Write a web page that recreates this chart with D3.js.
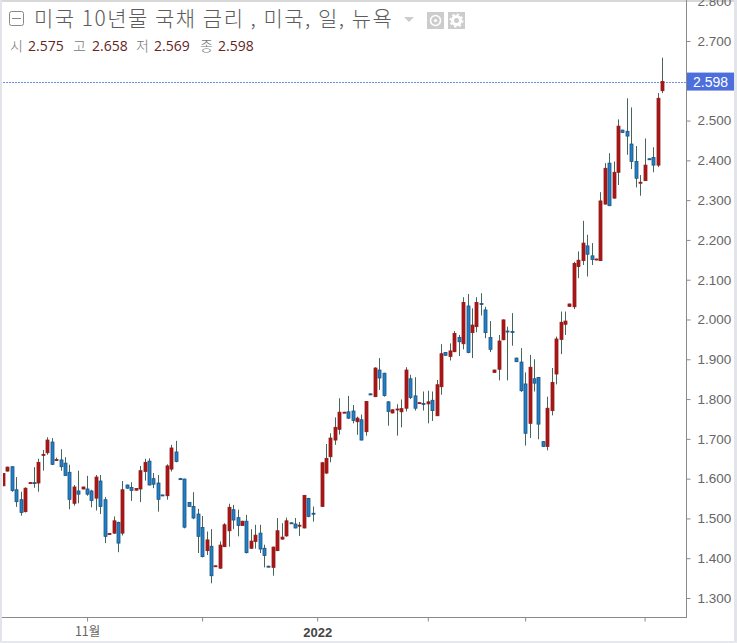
<!DOCTYPE html>
<html>
<head>
<meta charset="utf-8">
<script src="https://cdnjs.cloudflare.com/ajax/libs/d3/7.8.5/d3.min.js"></script>
<style>
  html, body { margin: 0; padding: 0; background: #fff; }
  svg { display: block; }
  .tick text { font-family: "Liberation Sans", Arial, sans-serif; }
</style>
</head>
<body>
<div id="chart"></div>
<script>
// daily candles. null = no session (new year gap)
var opens = [1.582,1.619,1.630,1.572,1.547,1.517,1.589,1.590,1.589,1.659,1.665,1.692,1.646,1.647,1.639,1.616,1.538,1.569,1.574,1.574,
  1.569,1.551,1.594,1.547,1.460,1.463,1.490,1.463,1.584,1.578,1.571,1.574,1.618,1.644,1.600,1.589,1.559,1.557,1.624,1.667,
  1.600,1.599,1.540,1.530,1.511,1.477,1.419,1.430,1.379,1.375,1.429,1.469,1.522,1.502,1.482,1.493,1.425,1.442,1.463,1.425,
  1.380,1.377,1.419,1.448,1.456,1.489,1.486,1.481,1.476,1.550,1.513,null,1.530,1.614,1.655,1.697,1.724,1.766,1.768,1.770,
  1.743,1.748,1.718,1.813,1.806,1.873,1.865,1.793,1.765,1.773,1.768,1.777,1.851,1.808,1.789,1.789,1.788,1.797,1.758,1.831,
  1.917,1.907,1.919,1.955,1.939,2.034,1.967,1.982,2.040,2.024,1.955,1.867,1.875,1.949,1.971,1.970,1.903,1.893,1.838,1.739,
  1.851,1.854,1.693,1.681,1.771,1.863,1.950,1.988,2.033,2.032,2.133,2.148,2.185,2.160,2.150,2.148,2.290,2.393,2.305,2.370,
  2.476,2.473,2.441,2.397,2.343,2.349,2.404,2.407,2.388,2.575];
var highs = [1.614,1.630,1.631,1.604,1.567,1.578,1.591,1.629,1.650,1.672,1.704,1.702,1.653,1.674,1.654,1.635,1.584,1.620,1.580,1.607,
  1.572,1.609,1.609,1.554,1.463,1.505,1.492,1.594,1.585,1.591,1.576,1.632,1.650,1.651,1.614,1.609,1.560,1.636,1.685,1.695,
  1.602,1.600,1.541,1.566,1.524,1.506,1.467,1.473,1.381,1.442,1.488,1.537,1.534,1.522,1.494,1.509,1.473,1.484,1.484,1.434,
  1.381,1.429,1.501,1.488,1.502,1.490,1.501,1.491,1.559,1.552,1.530,null,1.642,1.687,1.714,1.754,1.802,1.768,1.808,1.785,
  1.756,1.761,1.795,1.814,1.880,1.903,1.866,1.795,1.774,1.787,1.799,1.880,1.861,1.855,1.791,1.819,1.821,1.819,1.848,1.938,
  1.918,1.940,1.971,1.961,2.056,2.064,2.028,2.056,2.066,2.032,1.996,1.874,1.961,2.000,1.982,2.016,1.904,1.928,1.867,1.911,
  1.900,1.855,1.694,1.806,1.878,1.957,2.020,2.020,2.040,2.145,2.171,2.248,2.213,2.192,2.153,2.320,2.393,2.418,2.397,2.503,
  2.477,2.556,2.533,2.436,2.363,2.455,2.405,2.433,2.569,2.658];
var lows = [1.581,1.618,1.567,1.529,1.507,1.515,1.588,1.577,1.567,1.620,1.660,1.634,1.645,1.620,1.607,1.523,1.532,1.538,1.573,1.557,
  1.528,1.520,1.511,1.438,1.459,1.461,1.415,1.457,1.575,1.544,1.570,1.541,1.595,1.583,1.576,1.517,1.557,1.547,1.618,1.641,
  1.597,1.475,1.529,1.498,1.413,1.402,1.408,1.337,1.378,1.373,1.428,1.429,1.473,1.455,1.481,1.412,1.423,1.424,1.413,1.377,
  1.377,1.356,1.418,1.447,1.454,1.486,1.475,1.456,1.475,1.503,1.492,null,1.530,1.612,1.641,1.685,1.711,1.765,1.750,1.739,
  1.710,1.696,1.708,1.810,1.805,1.823,1.806,1.733,1.764,1.708,1.729,1.769,1.800,1.771,1.788,1.771,1.739,1.745,1.758,1.811,
  1.909,1.897,1.918,1.908,1.925,1.915,1.903,1.968,2.010,1.953,1.918,1.866,1.847,1.948,1.847,1.934,1.893,1.818,1.683,1.702,
  1.819,1.699,1.680,1.671,1.759,1.837,1.913,1.961,2.032,2.026,2.104,2.137,2.108,2.137,2.149,2.147,2.289,2.285,2.304,2.338,
  2.469,2.414,2.378,2.332,2.311,2.348,2.401,2.370,2.383,2.569];
var closes = [1.613,1.629,1.570,1.542,1.515,1.576,1.590,1.589,1.641,1.661,1.697,1.636,1.648,1.630,1.608,1.548,1.579,1.561,1.579,1.561,
  1.545,1.604,1.530,1.455,1.462,1.494,1.438,1.572,1.576,1.570,1.575,1.620,1.641,1.584,1.586,1.548,1.558,1.632,1.677,1.643,
  1.598,1.478,1.530,1.501,1.455,1.404,1.446,1.356,1.381,1.433,1.484,1.528,1.496,1.482,1.493,1.414,1.443,1.458,1.423,1.407,
  1.378,1.428,1.469,1.453,1.494,1.487,1.476,1.483,1.558,1.505,1.512,null,1.640,1.651,1.702,1.729,1.767,1.767,1.752,1.746,
  1.752,1.697,1.794,1.811,1.878,1.853,1.809,1.769,1.773,1.775,1.776,1.873,1.804,1.777,1.791,1.787,1.793,1.771,1.836,1.914,
  1.910,1.921,1.965,1.944,2.043,1.917,1.986,2.043,2.038,1.967,1.925,1.873,1.946,1.999,1.969,1.969,1.894,1.821,1.714,1.880,
  1.840,1.737,1.681,1.777,1.842,1.951,1.993,1.996,2.039,2.141,2.149,2.192,2.164,2.151,2.152,2.298,2.380,2.286,2.370,2.486,
  2.470,2.461,2.397,2.355,2.345,2.388,2.402,2.388,2.556,2.598];

var priceTicks = [1.3,1.4,1.5,1.6,1.7,1.8,1.9,2.0,2.1,2.2,2.3,2.4,2.5,2.7,2.8];
var timeTicks = [19, 45, 71, 96, 118, 145];
var timeLabels = ["11월", "", "2022", "", "", ""];

var title = "미국 10년물 국채 금리 , 미국, 일, 뉴욕";
var ohlcNames = ["시", "고", "저", "종"];
var ohlcValues = ["2.575", "2.658", "2.569", "2.598"];
var lastPrice = 2.598;

var width = 737, height = 643;
var plot = { left: 3, right: 686, top: 2, bottom: 617 };
var upFill = "#ad1414", upEdge = "#8f1c1c", downFill = "#1f80c8", downEdge = "#1d5480", wickColor = "#46665c";

var xScale = d3.scaleLinear().domain([0, 149]).range([3, 662.3]);
var yScale = d3.scaleLinear().domain([1.3, 2.8]).range([598, 1.2]);

var candles = d3.range(opens.length).filter(function(i){ return opens[i] !== null; });

var svg = d3.select("#chart").append("svg").attr("width", width).attr("height", height);

function px(i){ return Math.round(xScale(i)) + 0.5; }

// frame
svg.append("rect").attr("x", 0).attr("y", 0).attr("width", width).attr("height", 2).attr("fill", "#d8d8d8");
svg.append("rect").attr("x", 0).attr("y", 0).attr("width", 2).attr("height", height).attr("fill", "#e2e4ea");
svg.append("rect").attr("x", 734).attr("y", 0).attr("width", 3).attr("height", height).attr("fill", "#e2e4ea");
svg.append("rect").attr("x", 0).attr("y", 641).attr("width", width).attr("height", 2).attr("fill", "#e6e8ee");

svg.append("clipPath").attr("id", "plot-clip").append("rect")
  .attr("x", plot.left).attr("y", plot.top).attr("width", plot.right - plot.left).attr("height", plot.bottom - plot.top);

var marks = svg.append("g").attr("clip-path", "url(#plot-clip)");

// last price dotted line
marks.append("line")
  .attr("x1", plot.left).attr("x2", plot.right)
  .attr("y1", Math.round(yScale(lastPrice)) + 0.5).attr("y2", Math.round(yScale(lastPrice)) + 0.5)
  .attr("stroke", "#6c8fe0").attr("stroke-width", 1).attr("stroke-dasharray", "2,1");

marks.selectAll(".wick").data(candles).enter().append("line")
  .attr("class", "wick")
  .attr("x1", px).attr("x2", px)
  .attr("y1", function(i){ return yScale(highs[i]); })
  .attr("y2", function(i){ return yScale(lows[i]); })
  .attr("stroke", wickColor).attr("stroke-width", 1);

marks.selectAll(".body").data(candles).enter().append("rect")
  .attr("class", "body")
  .attr("x", function(i){ return px(i) - 1.5; })
  .attr("width", 3)
  .attr("y", function(i){ return yScale(Math.max(opens[i], closes[i])); })
  .attr("height", function(i){ return Math.max(1, Math.abs(yScale(opens[i]) - yScale(closes[i]))); })
  .attr("fill", function(i){ return closes[i] > opens[i] ? upFill : downFill; })
  .attr("stroke", function(i){ return closes[i] > opens[i] ? upEdge : downEdge; })
  .attr("stroke-width", 0.8);

// axes
var yAxis = d3.axisRight(yScale).tickValues(priceTicks).tickFormat(d3.format(".3f")).tickSize(4).tickPadding(7);
var yG = svg.append("g").attr("transform", "translate(" + (plot.right + 0.5) + ",0)").call(yAxis);
var xAxis = d3.axisBottom(xScale).tickValues(timeTicks)
  .tickFormat(function(d, i){ return timeLabels[i]; }).tickSize(4).tickPadding(6);
var xG = svg.append("g").attr("transform", "translate(0," + (plot.bottom + 0.5) + ")").call(xAxis);

[yG, xG].forEach(function(g){
  g.select(".domain").remove();
  g.selectAll("line").attr("stroke", "#8a8a8a");
  g.selectAll("text").attr("fill", "#666").style("font-size", "13.5px");
});
yG.selectAll(".tick").filter(function(d){ return d == 2.8; }).select("line").remove();
xG.selectAll("text").style("font-family", "'Noto Sans CJK KR','Liberation Sans',sans-serif").style("font-size", "12.5px");
xG.selectAll("text").filter(function(d, i){ return timeLabels[i] == "2022"; })
  .style("font-weight", "bold").style("font-family", "'Liberation Sans',sans-serif").style("font-size", "13px").attr("fill", "#444");

svg.append("line").attr("x1", plot.right + 0.5).attr("x2", plot.right + 0.5).attr("y1", 0).attr("y2", plot.bottom + 1).attr("stroke", "#8a8a8a");
svg.append("line").attr("x1", 2).attr("x2", plot.right).attr("y1", plot.bottom + 0.5).attr("y2", plot.bottom + 0.5).attr("stroke", "#8a8a8a");

// last price tag
svg.append("rect").attr("x", 687).attr("y", yScale(lastPrice) - 9).attr("width", 47).attr("height", 18).attr("fill", "#4c6fdd");
svg.append("text").attr("x", 693).attr("y", yScale(lastPrice) + 5)
  .attr("fill", "#fff").style("font", "14px 'Liberation Sans',sans-serif").text(lastPrice.toFixed(3));

// header
var head = svg.append("g");
head.append("rect").attr("x", 9.5).attr("y", 11.5).attr("width", 14).attr("height", 14).attr("rx", 2)
  .attr("fill", "none").attr("stroke", "#888");
head.append("line").attr("x1", 12).attr("x2", 21).attr("y1", 18.5).attr("y2", 18.5).attr("stroke", "#888");
head.append("text").attr("x", 34).attr("y", 26).attr("fill", "#5c5c5c")
  .style("font", "300 21px 'Noto Sans CJK KR',sans-serif").style("letter-spacing", "1.5px").text(title);

head.append("path").attr("d", "M404,17H414L409,22Z").attr("fill", "#ccc");
head.append("rect").attr("x", 427).attr("y", 12).attr("width", 17).attr("height", 17).attr("fill", "#ccc");
head.append("circle").attr("cx", 435.5).attr("cy", 20.5).attr("r", 5).attr("fill", "none").attr("stroke", "#fff").attr("stroke-width", 1.6);
head.append("circle").attr("cx", 435.5).attr("cy", 20.5).attr("r", 1.6).attr("fill", "#fff");
head.append("rect").attr("x", 448).attr("y", 12).attr("width", 17).attr("height", 17).attr("fill", "#ccc");
head.append("circle").attr("cx", 456.5).attr("cy", 20.5).attr("r", 4).attr("fill", "none").attr("stroke", "#fff").attr("stroke-width", 3);
head.append("circle").attr("cx", 456.5).attr("cy", 20.5).attr("r", 6.2).attr("fill", "none").attr("stroke", "#fff").attr("stroke-width", 1.6).attr("stroke-dasharray", "2.4,2.4");

var nameX = [10, 73, 136, 200], valX = [28, 92, 154, 218];
ohlcNames.forEach(function(n, i){
  head.append("text").attr("x", nameX[i]).attr("y", 51).attr("fill", "#777")
    .style("font", "300 14px 'Noto Sans CJK KR',sans-serif").text(n);
  head.append("text").attr("x", valX[i]).attr("y", 51).attr("fill", "#642424")
    .style("font", "14px 'Open Sans',sans-serif").text(ohlcValues[i]);
});
</script>
</body>
</html>
